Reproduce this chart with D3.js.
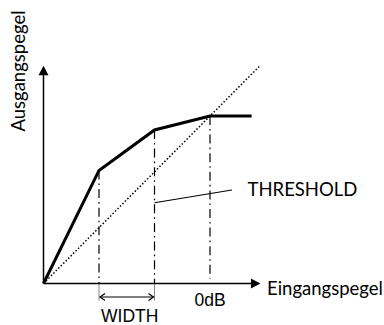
<!DOCTYPE html>
<html>
<head>
<meta charset="utf-8">
<script src="https://cdn.jsdelivr.net/npm/d3@7"></script>
<style>
  html, body { margin: 0; padding: 0; background: #fff; }
  svg { display: block; }
  .hum { font-family: Lato, "Open Sans", sans-serif; fill: #000; }
  .ari { font-family: "Liberation Sans", Arial, sans-serif; fill: #000; }
</style>
</head>
<body>
<script>
// Compressor transfer curve with a soft knee (levels in dB)
const inputLevels  = [-60, -40, -20, 0, 15];
const outputLevels = [-60, -19.5, -5, 0, 0];
// knee boundaries (start/end of WIDTH) and 0 dB reference
const guideLevels = [-40, -20, 0];
// unity-gain reference line
const unityLevels = [-60, 18];
// axis extent
const axisMin = -60, axisMax = 18;
// pointer from the THRESHOLD label to the knee
const thresholdPointerIn  = [-20, 7.9];
const thresholdPointerOut = [-31.1, -26.5];
const labelX = "Eingangspegel";
const labelY = "Ausgangspegel";
const labelThreshold = "THRESHOLD";
const labelWidth = "WIDTH";
const labelZero = "0dB";

const W = 384, H = 325;
const svg = d3.select("body").append("svg").attr("width", W).attr("height", H);

const x = d3.scaleLinear().domain([-60, 0]).range([43.5, 210]);
const y = d3.scaleLinear().domain([-60, 0]).range([283.5, 116]);

// unity (1:1) dotted line
svg.append("line")
  .attr("x1", x(unityLevels[0])).attr("y1", y(unityLevels[0]))
  .attr("x2", x(unityLevels[1])).attr("y2", y(unityLevels[1]))
  .attr("stroke", "#000").attr("stroke-width", 1.5)
  .attr("stroke-dasharray", "1.5,2");

// dash-dot guides from the curve down to the input axis
const curveAt = v => outputLevels[inputLevels.indexOf(v)];
svg.selectAll("line.guide").data(guideLevels).enter().append("line")
  .attr("class", "guide")
  .attr("x1", d => x(d)).attr("x2", d => x(d))
  .attr("y1", d => y(curveAt(d)))
  .attr("y2", (d, i) => i < 2 ? y(axisMin) : y(axisMin) - 5)
  .attr("stroke", "#000").attr("stroke-width", 1.2)
  .attr("stroke-dasharray", "9,4,1.6,4");

// grey extension marks for the WIDTH span
const widthSpan = guideLevels.slice(0, 2);
svg.selectAll("line.ext").data(widthSpan).enter().append("line")
  .attr("x1", d => x(d)).attr("x2", d => x(d))
  .attr("y1", y(axisMin)).attr("y2", y(axisMin) + 17)
  .attr("stroke", "#888").attr("stroke-width", 1);

// double arrow for WIDTH
const ay = y(axisMin) + 13.5;
svg.append("line")
  .attr("x1", x(widthSpan[0]) + 1).attr("x2", x(widthSpan[1]) - 1)
  .attr("y1", ay).attr("y2", ay)
  .attr("stroke", "#000").attr("stroke-width", 1.2);
svg.append("path")
  .attr("d", `M${x(widthSpan[0]) + 6},${ay - 3.5}L${x(widthSpan[0]) + 1},${ay}L${x(widthSpan[0]) + 6},${ay + 3.5}`
           + `M${x(widthSpan[1]) - 6},${ay - 3.5}L${x(widthSpan[1]) - 1},${ay}L${x(widthSpan[1]) - 6},${ay + 3.5}`)
  .attr("fill", "none").attr("stroke", "#000").attr("stroke-width", 1.2);

// axes with arrowheads
const ox = x(axisMin), oy = y(axisMin);
svg.append("line").attr("x1", ox).attr("y1", oy).attr("x2", x(axisMax) - 8).attr("y2", oy)
  .attr("stroke", "#000").attr("stroke-width", 1.5);
svg.append("line").attr("x1", ox).attr("y1", oy).attr("x2", ox).attr("y2", y(axisMax) + 8)
  .attr("stroke", "#000").attr("stroke-width", 1.5);
svg.append("path")
  .attr("d", `M${x(axisMax) + 0.5},${oy}L${x(axisMax) - 9},${oy - 5}L${x(axisMax) - 9},${oy + 5}Z`)
  .attr("fill", "#000");
svg.append("path")
  .attr("d", `M${ox},${y(axisMax)}L${ox - 5},${y(axisMax) + 9.5}L${ox + 5},${y(axisMax) + 9.5}Z`)
  .attr("fill", "#000");

// transfer curve
const line = d3.line().x(d => x(d[0])).y(d => y(d[1]));
svg.append("path")
  .datum(inputLevels.map((v, i) => [v, outputLevels[i]]))
  .attr("d", line)
  .attr("fill", "none").attr("stroke", "#000").attr("stroke-width", 3)
  .attr("stroke-linejoin", "miter");

// THRESHOLD pointer
svg.append("line")
  .attr("x1", x(thresholdPointerIn[0])).attr("y1", y(thresholdPointerOut[0]))
  .attr("x2", x(thresholdPointerIn[1])).attr("y2", y(thresholdPointerOut[1]))
  .attr("stroke", "#000").attr("stroke-width", 1.1);

// labels
svg.append("text").attr("class", "hum")
  .attr("x", 247.5).attr("y", 196).attr("font-size", 18.5)
  .text(labelThreshold);
svg.append("text").attr("class", "hum")
  .attr("x", 267).attr("y", 295).attr("font-size", 18.5)
  .text(labelX);
svg.append("text").attr("class", "hum")
  .attr("transform", "translate(25,71) rotate(-90)")
  .attr("text-anchor", "middle").attr("font-size", 18.5)
  .text(labelY);
svg.append("text").attr("class", "ari")
  .attr("x", (x(widthSpan[0]) + x(widthSpan[1])) / 2 + 3).attr("y", 322)
  .attr("text-anchor", "middle").attr("font-size", 17.5)
  .text(labelWidth);
svg.append("text").attr("class", "ari")
  .attr("x", x(0)).attr("y", 305.5)
  .attr("text-anchor", "middle").attr("font-size", 17.5)
  .text(labelZero);
</script>
</body>
</html>
